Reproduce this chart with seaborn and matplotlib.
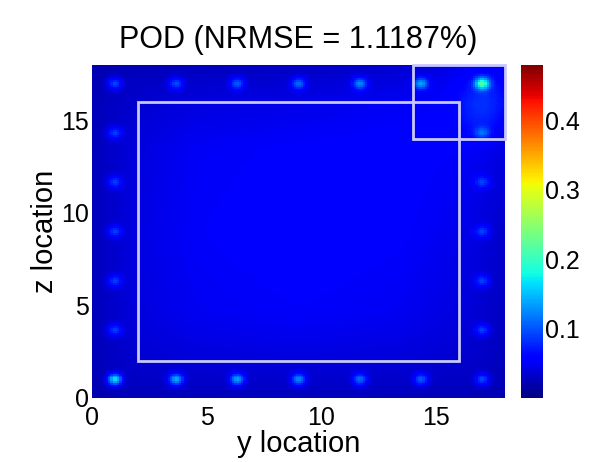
import numpy as np
import matplotlib
matplotlib.use("Agg")
import matplotlib.pyplot as plt
import matplotlib.patches as patches
import seaborn as sns

# ---------------- data ----------------
title = "POD (NRMSE = 1.1187%)"
xlabel = "y location"
ylabel = "z location"
extent = 18.0          # both axes span 0..18
res = 10               # cells per unit

# sensor locations (y, z) and peak error values
sensor_y = [1, 3.67, 6.33, 9, 11.67, 14.33, 17,      # top row
            1, 3.67, 6.33, 9, 11.67, 14.33, 17,      # bottom row
            1, 1, 1, 1, 1,                           # left column
            17, 17, 17, 17, 17]                      # right column
sensor_z = [17, 17, 17, 17, 17, 17, 17,
            1, 1, 1, 1, 1, 1, 1,
            14.33, 11.67, 9, 6.33, 3.67,
            14.33, 11.67, 9, 6.33, 3.67]
sensor_val = [0.13, 0.13, 0.14, 0.15, 0.17, 0.19, 0.28,
              0.24, 0.20, 0.19, 0.17, 0.15, 0.14, 0.13,
              0.12, 0.12, 0.12, 0.12, 0.12,
              0.13, 0.12, 0.12, 0.12, 0.12]

# coarse background error level at node points
bg_nodes = [0, 2, 4.5, 9, 13.5, 16, 18]
bg_grid = np.array([
    # y: 0     2     4.5   9     13.5  16    18
    [0.020, 0.024, 0.025, 0.026, 0.025, 0.024, 0.022],  # z=0
    [0.024, 0.034, 0.038, 0.040, 0.038, 0.034, 0.026],  # z=2
    [0.025, 0.040, 0.048, 0.052, 0.048, 0.040, 0.028],  # z=4.5
    [0.025, 0.042, 0.052, 0.058, 0.054, 0.046, 0.032],  # z=9
    [0.025, 0.040, 0.050, 0.054, 0.056, 0.052, 0.040],  # z=13.5
    [0.024, 0.034, 0.040, 0.044, 0.050, 0.055, 0.052],  # z=16
    [0.020, 0.024, 0.026, 0.028, 0.034, 0.044, 0.052],  # z=18
])

# glow below the top-right sensor
glow_y, glow_z, glow_val = [17.0], [15.8], [0.03]

# white outline boxes (y0, z0, width, height)
box_y0 = [2, 14]
box_z0 = [2, 14]
box_w = [14, 4]
box_h = [14, 4]

vmin, vmax = 0.0, 0.48
cbar_ticks = [0.1, 0.2, 0.3, 0.4]
axis_ticks = [0, 5, 10, 15]

# ---------------- build field ----------------
n = int(extent * res)
c = (np.arange(n) + 0.5) / res
Y, Z = np.meshgrid(c, c)

tmp = np.array([np.interp(c, bg_nodes, row) for row in bg_grid])
field = np.array([np.interp(c, bg_nodes, tmp[:, j]) for j in range(n)]).T

sig = 0.18
for sy, sz, sv in zip(sensor_y, sensor_z, sensor_val):
    base = np.interp(sz, bg_nodes, [np.interp(sy, bg_nodes, r) for r in bg_grid])
    field += (sv - base) * np.exp(-((Y - sy) ** 2 + (Z - sz) ** 2) / (2 * sig ** 2))
for gy, gz, gv in zip(glow_y, glow_z, glow_val):
    field += gv * np.exp(-((Y - gy) ** 2 / (2 * 0.7 ** 2) + (Z - gz) ** 2 / (2 * 1.2 ** 2)))

# soften (the source image is blurred)
k = np.exp(-0.5 * (np.arange(-6, 7) / 1.3) ** 2)
k /= k.sum()
pad = np.pad(field, 6, mode="edge")
pad = np.apply_along_axis(lambda r: np.convolve(r, k, mode="same"), 1, pad)
pad = np.apply_along_axis(lambda r: np.convolve(r, k, mode="same"), 0, pad)
field = pad[6:-6, 6:-6]

# ---------------- plot ----------------
fig = plt.figure(figsize=(5.97, 4.62), dpi=100, facecolor="white")
ax = fig.add_axes([0.154, 0.139, 0.692, 0.72])
cax = fig.add_axes([0.873, 0.139, 0.036, 0.72])

sns.heatmap(field, ax=ax, cbar_ax=cax, cmap="jet", vmin=vmin, vmax=vmax,
            xticklabels=False, yticklabels=False, rasterized=True,
            cbar_kws={"ticks": cbar_ticks})
ax.invert_yaxis()

for y0, z0, w, h in zip(box_y0, box_z0, box_w, box_h):
    ax.add_patch(patches.Rectangle((y0 * res, z0 * res), w * res, h * res,
                                   fill=False, edgecolor="#c8c8ff", linewidth=2.0,
                                   clip_on=False))

font = ["Liberation Sans", "DejaVu Sans"]
ax.set_xticks([t * res for t in axis_ticks])
ax.set_xticklabels([str(t) for t in axis_ticks], fontsize=18, family=font)
ax.set_yticks([t * res for t in axis_ticks])
ax.set_yticklabels([str(t) for t in axis_ticks], fontsize=18, family=font, rotation=0)
ax.tick_params(length=0, pad=2)
ax.tick_params(axis="x", pad=6)
ax.set_xlabel(xlabel, fontsize=21, family=font, labelpad=0)
ax.set_ylabel(ylabel, fontsize=21, family=font, labelpad=2)
ax.set_title(title, fontsize=22, family=font, pad=12)

cax.tick_params(labelsize=18, length=0, pad=2)
for lab in cax.get_yticklabels():
    lab.set_family(font)

fig.savefig("out.png", dpi=100, facecolor="white")
